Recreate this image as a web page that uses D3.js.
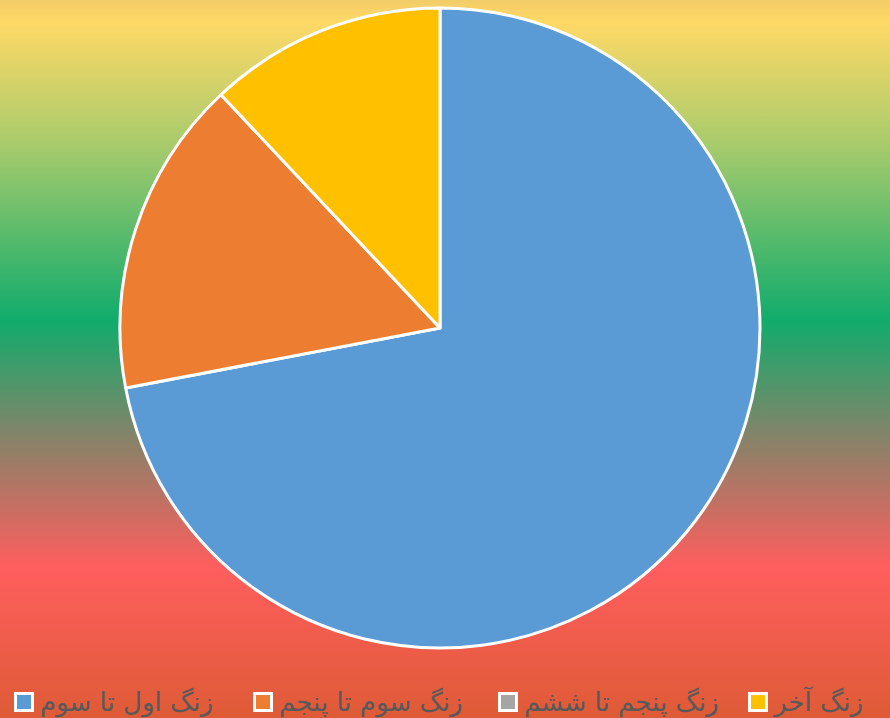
<!DOCTYPE html>
<html>
<head>
<meta charset="utf-8">
<script src="https://cdn.jsdelivr.net/npm/d3@7"></script>
<style>
  html, body { margin: 0; padding: 0; }
  svg { display: block; }
</style>
</head>
<body>
<div id="chart"></div>
<script>
// slice names, counts and colours
var categories = ["زنگ اول تا سوم", "زنگ سوم تا پنجم", "زنگ پنجم تا ششم", "زنگ آخر"];
var values = [18, 4, 0, 3];
var colors = ["#5B9BD5", "#ED7D31", "#A5A5A5", "#FFC000"];
// legend left edges (marker x)
var legendX = [14, 253, 498, 748];

var width = 890, height = 718;
var svg = d3.select("#chart").append("svg")
  .attr("width", width)
  .attr("height", height);

// background gradient
var grad = svg.append("defs").append("linearGradient")
  .attr("id", "bg").attr("x1", 0).attr("y1", 0).attr("x2", 0).attr("y2", 1);
[[0, "#F2CC68"], [0.03, "#FFD966"], [0.2, "#A9CB6C"], [0.445, "#10AC6C"], [0.6, "#7F8569"],
 [0.79, "#FF5E5E"], [1, "#DE5B36"]].forEach(function(s) {
  grad.append("stop").attr("offset", s[0]).attr("stop-color", s[1]);
});
svg.append("rect").attr("width", width).attr("height", height).attr("fill", "url(#bg)");

var data = categories.map(function(c, i) { return {name: c, value: values[i], color: colors[i]}; });

var pie = d3.pie().sort(null).value(function(d) { return d.value; });
var arc = d3.arc().innerRadius(0).outerRadius(320);

var g = svg.append("g").attr("transform", "translate(440,328)");
g.selectAll("path")
  .data(pie(data).filter(function(d) { return d.data.value > 0; }))
  .enter()
  .append("path")
    .attr("d", arc)
    .attr("fill", function(d) { return d.data.color; })
    .attr("stroke", "#fff")
    .attr("stroke-width", 3)
    .attr("stroke-linejoin", "round");

// legend
var items = svg.selectAll(".leg")
  .data(data)
  .enter()
  .append("g")
    .attr("class", "leg")
    .attr("transform", function(d, i) { return "translate(" + legendX[i] + ",692)"; });

items.append("rect")
  .attr("x", 1.5).attr("y", 1.5)
  .attr("width", 17).attr("height", 17)
  .attr("fill", function(d) { return d.color; })
  .attr("stroke", "#fff")
  .attr("stroke-width", 3);

items.append("text")
  .attr("x", 26)
  .attr("y", 19)
  .attr("font-family", "DejaVu Sans, sans-serif")
  .attr("font-size", 26)
  .attr("fill", "#595959")
  .text(function(d) { return d.name; });
</script>
</body>
</html>
